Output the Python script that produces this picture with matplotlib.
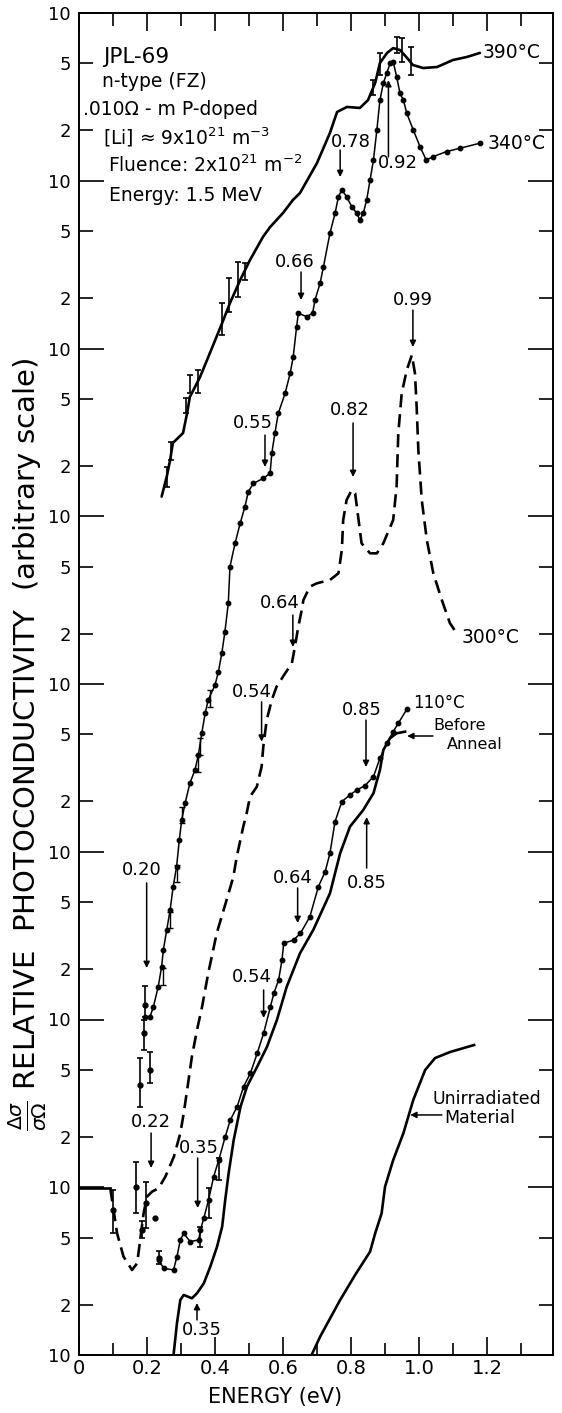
import numpy as np
import matplotlib
matplotlib.use("Agg")
import matplotlib.pyplot as plt
from matplotlib.ticker import FixedLocator, FixedFormatter

# ---------------- data (energy in eV, log10 of relative photoconductivity) ----------------
E_390 = [0.243, 0.258, 0.268, 0.276, 0.306, 0.318, 0.326, 0.356, 0.385, 0.421, 0.444, 0.474,
         0.503, 0.541, 0.562, 0.600, 0.629, 0.650, 0.700, 0.738, 0.759, 0.788, 0.826, 0.850,
         0.871, 0.885, 0.906, 0.924, 0.944, 0.965, 0.982, 1.012, 1.053, 1.100, 1.141, 1.179]
L_390 = [5.117, 5.236, 5.335, 5.437, 5.496, 5.615, 5.711, 5.830, 5.973, 6.152, 6.271, 6.408,
         6.528, 6.665, 6.724, 6.808, 6.885, 6.927, 7.106, 7.285, 7.410, 7.440, 7.434, 7.481,
         7.583, 7.702, 7.762, 7.791, 7.779, 7.732, 7.690, 7.672, 7.678, 7.720, 7.738, 7.762]

E_390_err = [0.258, 0.271, 0.315, 0.326, 0.351, 0.420, 0.441, 0.469, 0.488, 0.866, 0.885, 0.934, 0.951, 0.976]
L_390_lo = [5.176, 5.335, 5.615, 5.735, 5.735, 6.080, 6.220, 6.307, 6.408, 7.510, 7.630, 7.762, 7.710, 7.630]
L_390_hi = [5.296, 5.444, 5.705, 5.842, 5.872, 6.271, 6.420, 6.516, 6.510, 7.600, 7.762, 7.857, 7.851, 7.797]

E_340 = [0.195, 0.209, 0.219, 0.233, 0.243, 0.248, 0.258, 0.268, 0.277, 0.287, 0.295, 0.302,
         0.312, 0.326, 0.341, 0.351, 0.361, 0.371, 0.380, 0.400, 0.410, 0.420, 0.429, 0.439,
         0.444, 0.459, 0.474, 0.488, 0.498, 0.513, 0.542, 0.562, 0.567, 0.576, 0.586, 0.606,
         0.621, 0.630, 0.640, 0.645, 0.670, 0.687, 0.694, 0.709, 0.719, 0.738, 0.753, 0.763,
         0.773, 0.787, 0.802, 0.817, 0.826, 0.836, 0.846, 0.856, 0.866, 0.876, 0.885, 0.895,
         0.905, 0.915, 0.924, 0.934, 0.944, 0.954, 0.964, 0.983, 1.003, 1.021, 1.042, 1.081,
         1.121, 1.179]
L_340 = [2.017, 2.017, 2.077, 2.196, 2.315, 2.414, 2.534, 2.653, 2.792, 2.911, 3.070, 3.189,
         3.289, 3.408, 3.487, 3.577, 3.706, 3.825, 3.905, 3.994, 4.073, 4.183, 4.310, 4.480,
         4.700, 4.839, 4.958, 5.057, 5.147, 5.196, 5.226, 5.256, 5.375, 5.494, 5.613, 5.732,
         5.852, 5.951, 6.130, 6.210, 6.190, 6.210, 6.289, 6.389, 6.488, 6.687, 6.806, 6.905,
         6.945, 6.905, 6.846, 6.806, 6.766, 6.806, 6.885, 7.004, 7.124, 7.303, 7.481, 7.581,
         7.641, 7.700, 7.710, 7.621, 7.521, 7.481, 7.402, 7.303, 7.203, 7.124, 7.144, 7.174,
         7.194, 7.224]

E_340_err = [0.248, 0.268, 0.287, 0.302, 0.351, 0.356, 0.385]
L_340_err = [2.255, 2.593, 2.872, 3.219, 3.527, 3.626, 3.915]

E_pts_a = [0.180, 0.190, 0.195, 0.210]
L_pts_a = [1.610, 1.918, 2.086, 1.700]
L_pts_a_lo = [1.480, 1.820, 2.017, 1.620]
L_pts_a_hi = [1.770, 2.000, 2.197, 1.808]

E_pts_b = [0.099, 0.169, 0.185, 0.198, 0.234]
L_pts_b = [0.864, 1.003, 0.745, 0.904, 0.580]
L_pts_b_lo = [0.725, 0.845, 0.700, 0.755, 0.540]
L_pts_b_hi = [0.984, 1.152, 0.800, 1.033, 0.620]
E_lone = [0.224]
L_lone = [0.815]

E_300_flat = [0.0, 0.092]
L_300_flat = [0.994, 0.994]
E_300 = [0.092, 0.112, 0.131, 0.156, 0.171, 0.180, 0.190, 0.200, 0.215, 0.234, 0.254, 0.279,
         0.298, 0.308, 0.318, 0.332, 0.347, 0.362, 0.380, 0.405, 0.434, 0.454, 0.464, 0.483,
         0.493, 0.503, 0.523, 0.537, 0.542, 0.552, 0.567, 0.581, 0.606, 0.626, 0.635, 0.645,
         0.655, 0.660, 0.679, 0.699, 0.738, 0.763, 0.773, 0.777, 0.787, 0.802, 0.812, 0.821,
         0.831, 0.856, 0.876, 0.895, 0.924, 0.934, 0.939, 0.949, 0.964, 0.979, 0.988, 0.993,
         0.998, 1.008, 1.023, 1.042, 1.067, 1.091, 1.111]
L_300 = [0.994, 0.725, 0.586, 0.507, 0.547, 0.686, 0.845, 0.944, 0.974, 0.994, 1.063, 1.182,
         1.322, 1.441, 1.580, 1.778, 1.937, 2.076, 2.275, 2.514, 2.712, 2.851, 2.971, 3.149,
         3.229, 3.328, 3.388, 3.507, 3.626, 3.785, 3.905, 3.984, 4.063, 4.123, 4.222, 4.342,
         4.441, 4.501, 4.580, 4.600, 4.620, 4.660, 4.799, 4.978, 5.097, 5.156, 5.137, 4.997,
         4.839, 4.779, 4.779, 4.839, 4.978, 5.176, 5.494, 5.732, 5.872, 5.961, 5.852, 5.653,
         5.395, 5.097, 4.858, 4.660, 4.501, 4.362, 4.302]

E_110 = [0.234, 0.249, 0.278, 0.288, 0.298, 0.308, 0.327, 0.352, 0.357, 0.367, 0.381, 0.396,
         0.411, 0.430, 0.445, 0.465, 0.484, 0.504, 0.524, 0.543, 0.563, 0.573, 0.587, 0.597,
         0.602, 0.631, 0.651, 0.679, 0.704, 0.724, 0.738, 0.753, 0.773, 0.797, 0.817, 0.841,
         0.866, 0.885, 0.905, 0.924, 0.939, 0.964]
L_110 = [0.566, 0.517, 0.507, 0.586, 0.686, 0.725, 0.676, 0.686, 0.745, 0.815, 0.924, 1.063,
         1.162, 1.301, 1.401, 1.480, 1.600, 1.679, 1.798, 1.918, 2.077, 2.156, 2.235, 2.355,
         2.454, 2.474, 2.513, 2.613, 2.792, 2.881, 2.991, 3.180, 3.299, 3.339, 3.368, 3.394,
         3.448, 3.557, 3.647, 3.716, 3.766, 3.849]
E_110_err = [0.357, 0.381, 0.411]
L_110_lo = [0.646, 0.815, 1.043]
L_110_hi = [0.765, 0.994, 1.174]

E_before = [0.278, 0.288, 0.298, 0.308, 0.332, 0.347, 0.367, 0.386, 0.406, 0.421, 0.430, 0.440,
            0.455, 0.475, 0.494, 0.524, 0.553, 0.582, 0.611, 0.650, 0.689, 0.738, 0.768, 0.797,
            0.836, 0.866, 0.885, 0.895, 0.915, 0.934, 0.959]
L_before = [0.000, 0.188, 0.328, 0.358, 0.338, 0.368, 0.427, 0.526, 0.646, 0.765, 0.924, 1.083,
            1.282, 1.480, 1.600, 1.719, 1.838, 1.997, 2.196, 2.395, 2.534, 2.752, 2.991, 3.150,
            3.249, 3.349, 3.487, 3.607, 3.677, 3.706, 3.716]

E_unirr = [0.684, 0.709, 0.768, 0.812, 0.856, 0.871, 0.890, 0.900, 0.924, 0.954, 0.983, 1.018,
           1.047, 1.091, 1.162]
L_unirr = [0.000, 0.109, 0.328, 0.477, 0.616, 0.725, 0.845, 1.003, 1.162, 1.322, 1.520, 1.699,
           1.770, 1.806, 1.848]

# peak annotations: label, label pos, arrow tail, arrow tip (E, log10)
ann_text = ['0.78', '0.92', '0.66', '0.55', '0.99', '0.82', '0.64', '0.54',
            '0.20', '0.22', '0.35', '0.35', '0.54', '0.64', '0.85', '0.85']
ann_lab_E = [0.800, 0.937, 0.635, 0.512, 0.982, 0.797, 0.591, 0.508,
             0.184, 0.210, 0.352, 0.362, 0.509, 0.630, 0.831, 0.846]
ann_lab_L = [7.231, 7.104, 6.516, 5.556, 6.289, 5.633, 4.483, 3.954,
             2.891, 1.391, 1.232, 0.149, 2.255, 2.842, 3.845, 2.814]
ann_tail_E = [0.768, 0.910, 0.653, 0.547, 0.982, 0.806, 0.629, 0.537,
              0.199, 0.212, 0.349, 0.347, 0.543, 0.643, 0.844, 0.846]
ann_tail_L = [7.183, 7.142, 6.456, 5.484, 6.229, 5.556, 4.411, 3.894,
              2.814, 1.323, 1.174, 0.209, 2.176, 2.784, 3.785, 2.903]
ann_tip_L = [7.022, 7.600, 6.289, 5.294, 6.009, 5.234, 4.221, 3.656,
             2.307, 1.115, 0.876, 0.310, 2.009, 2.575, 3.505, 3.207]

x_ticks = [0.0, 0.2, 0.4, 0.6, 0.8, 1.0, 1.2]
x_ticklabels = ['0', '0.2', '0.4', '0.6', '0.8', '1.0', '1.2']


def dec(a):
    return 10.0 ** np.asarray(a, dtype=float)


plt.rcParams['font.family'] = ['DejaVu Sans']
fig = plt.figure(figsize=(5.62, 14.13), dpi=100)
ax = fig.add_axes([79 / 562, 58 / 1413, 474 / 562, 1342 / 1413])
ax.set_yscale('log')
ax.set_xlim(0, 1.394)
ax.set_ylim(1, 1e8)

k = 'black'
# curves
L390m = [(a + b) / 2 for a, b in zip(L_390_lo, L_390_hi)]
ax.plot(E_390, dec(L_390), color=k, lw=1.9, solid_capstyle='round')
ax.errorbar(E_390_err, dec(L390m),
            yerr=[dec(L390m) - dec(L_390_lo), dec(L_390_hi) - dec(L390m)],
            fmt='none', ecolor=k, elinewidth=1.2, capsize=2.5, capthick=1.2)

ax.plot(E_340, dec(L_340), color=k, lw=1.1, marker='o', ms=3.2)
ax.errorbar(E_340_err, dec(L_340_err),
            yerr=[dec(L_340_err) - dec(np.array(L_340_err) - 0.05),
                  dec(np.array(L_340_err) + 0.05) - dec(L_340_err)],
            fmt='none', ecolor=k, elinewidth=1.0, capsize=2, capthick=1.0)

for Es, Ls, lo, hi in [(E_pts_a, L_pts_a, L_pts_a_lo, L_pts_a_hi),
                       (E_pts_b, L_pts_b, L_pts_b_lo, L_pts_b_hi)]:
    ax.errorbar(Es, dec(Ls), yerr=[dec(Ls) - dec(lo), dec(hi) - dec(Ls)],
                fmt='o', color=k, ms=3.5, elinewidth=1.2, capsize=2.5, capthick=1.2)
ax.plot(E_lone, dec(L_lone), 'o', color=k, ms=3.5)

ax.plot(E_300_flat, dec(L_300_flat), color=k, lw=1.9)
ax.plot(E_300, dec(L_300), color=k, lw=1.9, dashes=(5, 2.6))

ax.plot(E_110, dec(L_110), color=k, lw=1.1, marker='o', ms=3.2)
Lm = [(a + b) / 2 for a, b in zip(L_110_lo, L_110_hi)]
ax.errorbar(E_110_err, dec(Lm), yerr=[dec(Lm) - dec(L_110_lo), dec(L_110_hi) - dec(Lm)],
            fmt='none', ecolor=k, elinewidth=1.2, capsize=2.5, capthick=1.2)

ax.plot(E_before, dec(L_before), color=k, lw=1.9)
ax.plot(E_unirr, dec(L_unirr), color=k, lw=1.9)

# annotations
fs = 13
for s, lx, ly, tx, ty, py in zip(ann_text, ann_lab_E, ann_lab_L, ann_tail_E, ann_tail_L, ann_tip_L):
    ax.text(lx, 10 ** ly, s, ha='center', va='center', fontsize=fs)
    ax.annotate('', xy=(tx, 10 ** py), xytext=(tx, 10 ** ty),
                arrowprops=dict(arrowstyle='-|>', color=k, lw=1.1, mutation_scale=9,
                                shrinkA=0, shrinkB=0))

ax.annotate('', xy=(0.965, 10 ** 3.69), xytext=(1.041, 10 ** 3.69),
            arrowprops=dict(arrowstyle='-|>', color=k, lw=1.1, mutation_scale=9, shrinkA=0, shrinkB=0))
ax.annotate('', xy=(0.974, 10 ** 1.431), xytext=(1.067, 10 ** 1.431),
            arrowprops=dict(arrowstyle='-|>', color=k, lw=1.1, mutation_scale=9, shrinkA=0, shrinkB=0))

ax.text(1.188, 10 ** 7.762, '390°C', ha='left', va='center', fontsize=13.5)
ax.text(1.203, 10 ** 7.225, '340°C', ha='left', va='center', fontsize=13.5)
ax.text(1.126, 10 ** 4.28, '300°C', ha='left', va='center', fontsize=13.5)
ax.text(0.982, 10 ** 3.887, '110°C', ha='left', va='center', fontsize=12)
ax.text(1.041, 10 ** 3.755, 'Before', ha='left', va='center', fontsize=11.5)
ax.text(1.082, 10 ** 3.640, 'Anneal', ha='left', va='center', fontsize=11.5)
ax.text(1.199, 10 ** 1.525, 'Unirradiated', ha='center', va='center', fontsize=12.5)
ax.text(1.179, 10 ** 1.410, 'Material', ha='center', va='center', fontsize=12.5)

info = [(0.071, 7.738, 'JPL-69', 15.5),
        (0.067, 7.589, 'n-type (FZ)', 13.5),
        (0.012, 7.422, '.010\u03a9 - m P-doped', 13.5),
        (0.071, 7.261, '[Li] \u2248 9x10$^{21}$ m$^{-3}$', 13.5),
        (0.085, 7.094, 'Fluence: 2x10$^{21}$ m$^{-2}$', 13.5),
        (0.088, 6.915, 'Energy: 1.5 MeV', 13.5)]
for x, y, s, f in info:
    ax.text(x, 10 ** y, s, ha='left', va='center', fontsize=f)

# axes styling
for sp in ax.spines.values():
    sp.set_linewidth(1.4)
ax.yaxis.set_major_locator(FixedLocator([10.0 ** i for i in range(9)]))
ax.yaxis.set_major_formatter(FixedFormatter(['10'] * 9))
minor_vals = []
minor_labs = []
for i in range(8):
    minor_vals += [2 * 10.0 ** i, 5 * 10.0 ** i]
    minor_labs += ['2', '5']
ax.yaxis.set_minor_locator(FixedLocator(minor_vals))
ax.yaxis.set_minor_formatter(FixedFormatter(minor_labs))
ax.tick_params(axis='y', which='major', direction='in', length=18, width=1.2,
               labelsize=13, right=True, pad=6)
ax.tick_params(axis='y', which='minor', direction='in', length=10, width=1.2,
               labelsize=13, right=True, pad=6)

ax.xaxis.set_major_locator(FixedLocator(x_ticks))
ax.xaxis.set_major_formatter(FixedFormatter(x_ticklabels))
ax.xaxis.set_minor_locator(FixedLocator([0.1, 0.3, 0.5, 0.7, 0.9, 1.1, 1.3]))
ax.tick_params(axis='x', which='major', direction='in', length=13, width=1.2,
               labelsize=14, top=True, pad=3)
ax.tick_params(axis='x', which='minor', direction='in', length=9, width=1.2, top=True)

fig.text(0.489, 0.0113, 'ENERGY (eV)', ha='center', va='center', fontsize=15)
fig.text(0.05, 0.473,
         r'$\frac{\Delta\sigma}{\sigma\Omega}$ RELATIVE  PHOTOCONDUCTIVITY  (arbitrary scale)',
         ha='center', va='center', rotation=90, fontsize=21)

fig.savefig('out.png', dpi=100)
